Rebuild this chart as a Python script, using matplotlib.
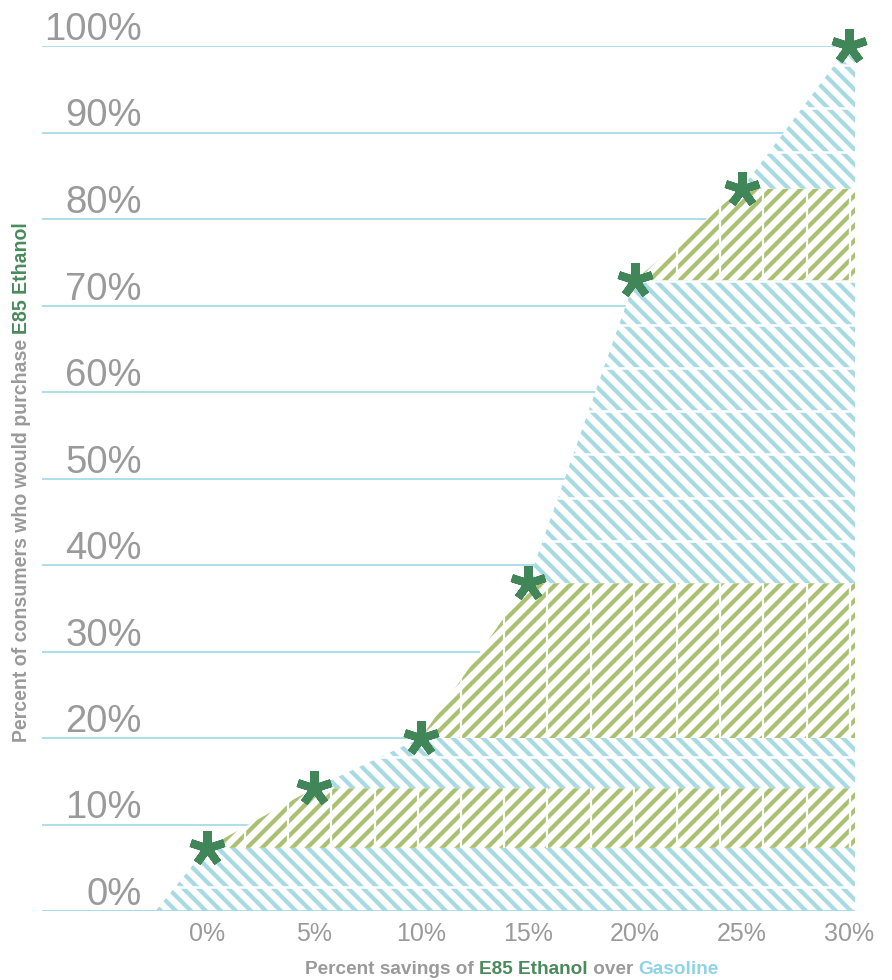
import numpy as np
import matplotlib
matplotlib.use("Agg")
import matplotlib.pyplot as plt
from matplotlib import transforms

# ---------------- data ----------------
# curve: % savings of E85 over gasoline  ->  % of consumers who would purchase
savings = [-2.4, 0, 5, 10, 15, 20, 25, 30]
share = [0, 7.3, 14.2, 20.0, 37.9, 72.9, 83.5, 100]
x_ticks = [0, 5, 10, 15, 20, 25, 30]
x_tick_labels = ["0%", "5%", "10%", "15%", "20%", "25%", "30%"]
y_ticks = [0, 10, 20, 30, 40, 50, 60, 70, 80, 90, 100]
y_tick_labels = ["0%", "10%", "20%", "30%", "40%", "50%", "60%", "70%", "80%", "90%", "100%"]

# ---------------- style ----------------
BLUE = "#a7dae3"
GREEN = "#a9c171"
STAR = "#418659"
GRID = "#a3dbe7"
GRAY = "#9a9a9a"
TITLE_GREEN = "#4a8a5c"
TITLE_BLUE = "#8fd3e5"

plt.rcParams["font.family"] = ["Liberation Sans", "DejaVu Sans"]
plt.rcParams["hatch.linewidth"] = 1.7

DPI = 180
W, H = 892, 980
fig = plt.figure(figsize=(W / DPI, H / DPI), dpi=DPI)
fig.patch.set_facecolor("white")
ax = fig.add_axes([42 / W, 1 - 911 / H, (855 - 42) / W, (911 - 46) / H])
x_left, x_right = -7.71, 30.3
ax.set_xlim(x_left, x_right)
ax.set_ylim(0, 100)
for s in ax.spines.values():
    s.set_visible(False)
ax.set_yticks([])
ax.set_xticks(x_ticks, x_tick_labels)
ax.tick_params(axis="x", length=0, pad=4.4, labelsize=10, labelcolor=GRAY)

# gridlines
ax.hlines(y_ticks, x_left, x_right, color=GRID, lw=0.7, zorder=1)
ax.hlines([0], x_left, x_right, color=GRID, lw=0.7, zorder=4)

# bands
gap_y = np.arange(2.8, 100, 5.0)
gap_x = np.arange(13.9 - 2.02 * 10, 31, 2.02)
for i in range(len(share) - 1):
    lo, hi = share[i], share[i + 1]
    is_blue = (i % 2 == 0)
    col = BLUE if is_blue else GREEN
    coll = ax.fill_betweenx([lo, hi], [savings[i], savings[i + 1]], x_right,
                            facecolor="white", edgecolor=col, linewidth=0,
                            hatch="\\\\\\\\" if is_blue else "////", zorder=2)
    path = coll.get_paths()[0]
    if is_blue:
        ys = [g for g in gap_y if lo < g < hi]
        if ys:
            lc = ax.hlines(ys, x_left, x_right, color="white", lw=1.0, zorder=3)
            lc.set_clip_path(path, ax.transData)
    else:
        lc = ax.vlines(gap_x, lo, hi, color="white", lw=0.9, zorder=3)
        lc.set_clip_path(path, ax.transData)

# asterisks
ax.plot(savings[1:], share[1:], ls="none", marker=(5, 2, 0), ms=14, mew=3.2,
        color=STAR, clip_on=False, zorder=6)

# y tick labels above gridlines
off = transforms.offset_copy(ax.transData, fig=fig, x=0, y=6, units="dots")
for v, lab in zip(y_ticks, y_tick_labels):
    ax.text(-3.04, v, lab, ha="right", va="baseline", fontsize=15.3, color=GRAY,
            transform=off)

TITLE_FS = 7.6
# x axis title (multi-colour)
pieces_x = [("Percent savings of ", GRAY), ("E85 Ethanol", TITLE_GREEN),
            (" over ", GRAY), ("Gasoline", TITLE_BLUE)]
prev = fig.text(305 / W, 1 - 974 / H, pieces_x[0][0], color=pieces_x[0][1],
                fontsize=TITLE_FS, fontweight="bold", ha="left", va="baseline")
for txt, c in pieces_x[1:]:
    prev = ax.annotate(txt, xy=(1, 0), xycoords=prev, ha="left", va="bottom",
                       color=c, fontsize=TITLE_FS, fontweight="bold",
                       annotation_clip=False)

# y axis title (multi-colour, rotated)
pieces_y = [("Percent of consumers who would purchase ", GRAY), ("E85 Ethanol", TITLE_GREEN)]
prev = fig.text(22 / W, 1 - 742 / H, pieces_y[0][0], color=pieces_y[0][1],
                fontsize=7.8, fontweight="bold", ha="center", va="bottom",
                rotation=90)
for txt, c in pieces_y[1:]:
    prev = ax.annotate(txt, xy=(0.5, 1), xycoords=prev, ha="center", va="bottom",
                       rotation=90, color=c, fontsize=7.8, fontweight="bold",
                       annotation_clip=False)

fig.savefig("out.png", dpi=DPI, facecolor="white")
